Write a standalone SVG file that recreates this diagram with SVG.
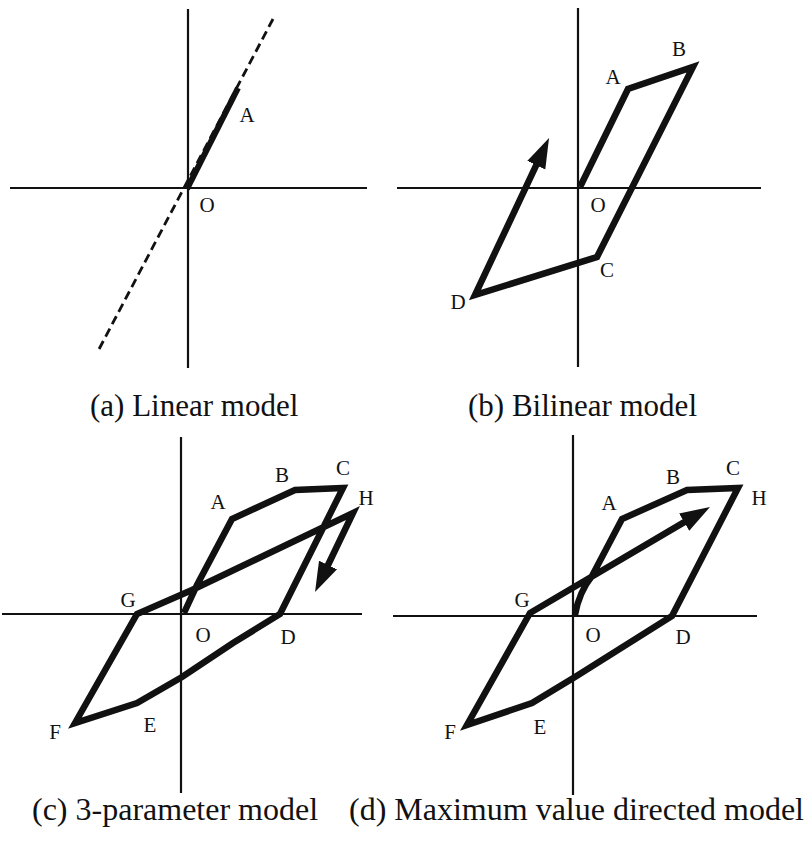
<svg xmlns="http://www.w3.org/2000/svg" width="808" height="849" viewBox="0 0 808 849">
<style>
.ax{stroke:#111;stroke-width:2.2;fill:none}
.cv{stroke:#111;stroke-width:6.5;fill:none;stroke-linejoin:miter;stroke-miterlimit:5}
.dash{stroke:#111;stroke-width:2.8;fill:none;stroke-dasharray:9 5}
.lb{font-family:"Liberation Serif","Times New Roman",serif;font-size:21px;fill:#111;text-anchor:middle}
.cap{font-family:"Liberation Serif","Times New Roman",serif;font-size:31px;fill:#111}
.cap2{font-family:"Liberation Serif","Times New Roman",serif;font-size:32px;fill:#111}
</style>
<defs>
<marker id="ah" markerUnits="userSpaceOnUse" viewBox="0 -11 32 22" refX="10" refY="0" markerWidth="32" markerHeight="22" orient="auto">
<path d="M0,-10 L30,0 L0,10 Z" fill="#111"/>
</marker>
</defs>
<rect width="808" height="849" fill="#fff"/>

<g id="panel-a">
<line class="ax" x1="188" y1="9" x2="188" y2="368"/>
<line class="ax" x1="10" y1="188" x2="367" y2="188"/>
<line class="dash" x1="273" y1="19" x2="97" y2="353"/>
<line class="cv" style="stroke-width:6" x1="187" y1="189" x2="238" y2="88"/>
<text class="lb" x="247" y="122">A</text>
<text class="lb" x="207" y="212">O</text>
<text class="cap" x="90" y="416">(a) Linear model</text>
</g>

<g id="panel-b">
<line class="ax" x1="578" y1="8" x2="578" y2="367"/>
<line class="ax" x1="397" y1="188" x2="761" y2="188"/>
<path class="cv" marker-end="url(#ah)" d="M580,187 L628,89 L693,67 L597,257 L475,295 L540.5,156.1"/>
<text class="lb" x="613" y="84">A</text>
<text class="lb" x="679" y="56">B</text>
<text class="lb" x="598" y="212">O</text>
<text class="lb" x="607" y="277">C</text>
<text class="lb" x="458" y="309">D</text>
<text class="cap" x="468" y="416">(b) Bilinear model</text>
</g>

<g id="panel-c">
<line class="ax" x1="181" y1="437" x2="181" y2="793"/>
<line class="ax" x1="2" y1="614" x2="362" y2="614"/>
<path class="cv" marker-end="url(#ah)" d="M184,613 L197,585 L232,519 L295,490 L343,488 L280,614 L233,643 L182,677 L137,703 L75,723 L137,614 L192,590 L353,513 L323.7,574"/>
<text class="lb" x="218" y="509">A</text>
<text class="lb" x="282" y="482">B</text>
<text class="lb" x="343" y="475">C</text>
<text class="lb" x="366" y="505">H</text>
<text class="lb" x="128" y="607">G</text>
<text class="lb" x="203" y="642">O</text>
<text class="lb" x="288" y="644">D</text>
<text class="lb" x="150" y="732">E</text>
<text class="lb" x="55" y="739">F</text>
<text class="cap2" x="32" y="820">(c) 3-parameter model</text>
</g>

<g id="panel-d">
<line class="ax" x1="573" y1="435" x2="573" y2="795"/>
<line class="ax" x1="393" y1="616" x2="757" y2="616"/>
<path class="cv" marker-end="url(#ah)" d="M575,615 Q579,592 592,576 L622,519 L687,490 L738,488 L672,616 L575,677 L532,703 L467,725 L530,613 L692.8,517.1"/>
<text class="lb" x="609" y="510">A</text>
<text class="lb" x="673" y="484">B</text>
<text class="lb" x="733" y="475">C</text>
<text class="lb" x="759" y="505">H</text>
<text class="lb" x="522" y="607">G</text>
<text class="lb" x="593" y="642">O</text>
<text class="lb" x="683" y="644">D</text>
<text class="lb" x="540" y="734">E</text>
<text class="lb" x="450" y="739">F</text>
<text class="cap2" x="349" y="820">(d) Maximum value directed model</text>
</g>
</svg>
